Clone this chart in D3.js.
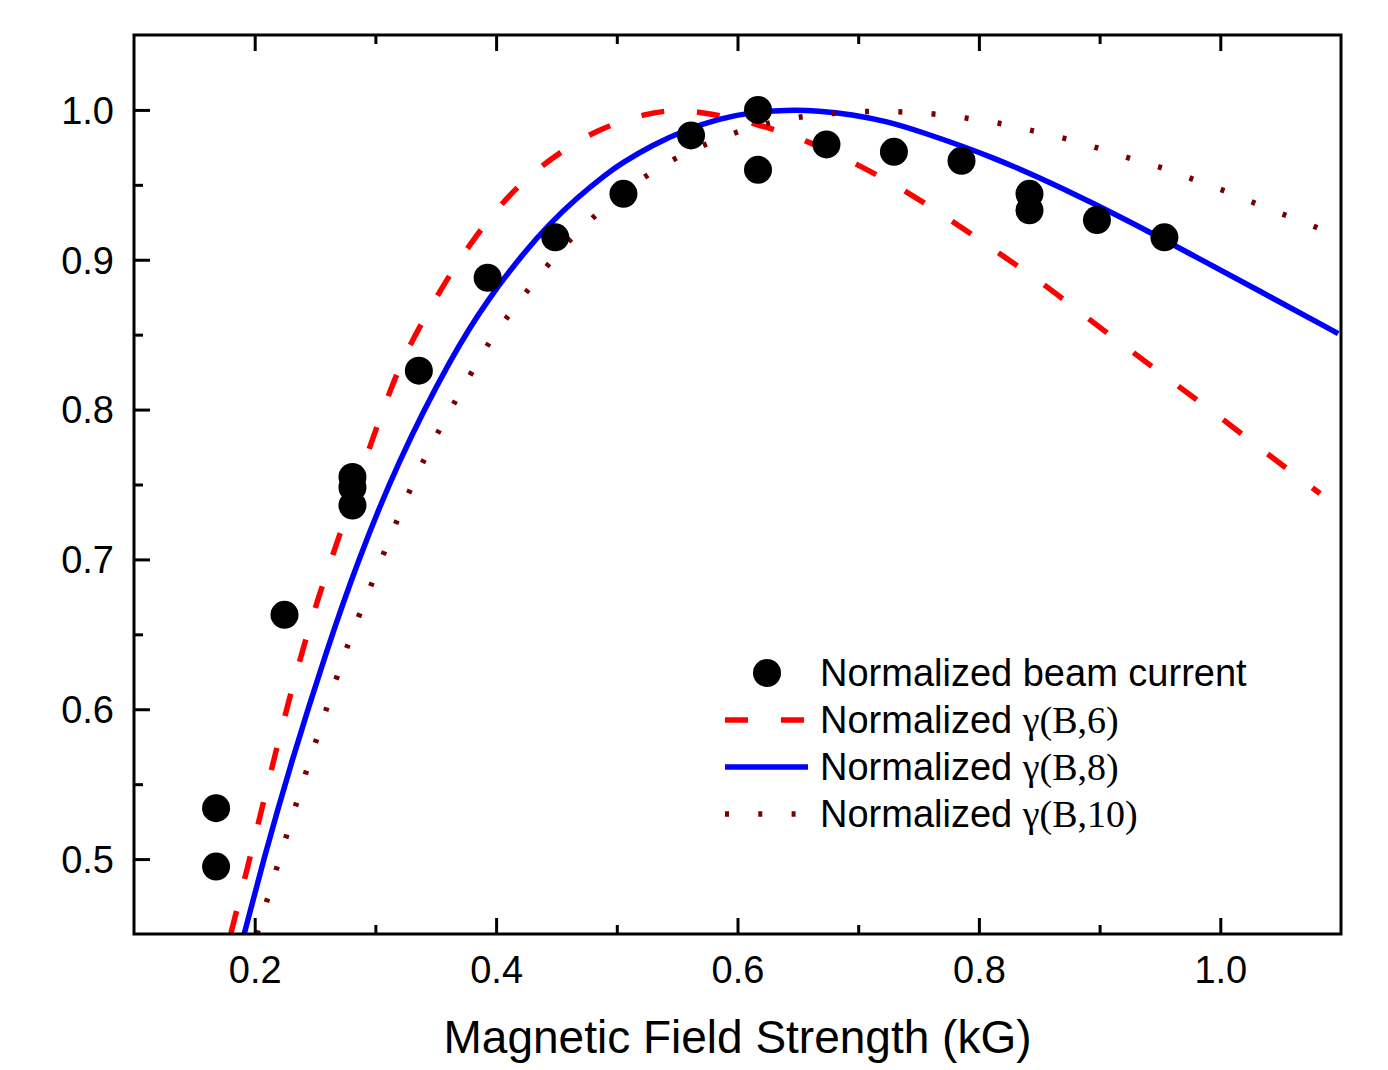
<!DOCTYPE html>
<html>
<head>
<meta charset="utf-8">
<script src="https://cdn.jsdelivr.net/npm/d3@7"></script>
<style>
  html, body { margin: 0; padding: 0; background: #fff; }
  svg { display: block; }
  .sans { font-family: "Liberation Sans", Arial, Helvetica, sans-serif; }
  .serif { font-family: "Liberation Serif", "Times New Roman", serif; }
</style>
</head>
<body>
<svg id="chart" width="1388" height="1070"></svg>
<script>
// Measured beam current (normalized) vs. magnetic field strength in kG
const fieldB = [0.168, 0.168, 0.2247, 0.281, 0.281, 0.281, 0.336, 0.393, 0.449,
                0.5055, 0.5615, 0.617, 0.617, 0.6737, 0.7296, 0.7856, 0.8419, 0.8419,
                0.8978, 0.9537];
const beamCurrent = [0.534, 0.495, 0.663, 0.755, 0.748, 0.736, 0.826, 0.888, 0.915,
                     0.944, 0.983, 1.000, 0.960, 0.977, 0.972, 0.966, 0.944, 0.933,
                     0.9265, 0.915];

// Normalized gamma(B,6) curve
const gamma6B = [0.1803, 0.1946, 0.2062, 0.217, 0.2277, 0.2402, 0.2528, 0.2671, 0.2823,
                 0.2969, 0.3126, 0.3272, 0.3553, 0.3782, 0.4057, 0.4361, 0.4816, 0.5254,
                 0.548, 0.5708, 0.6163, 0.6593, 0.699, 0.7395, 0.7776, 0.8156, 0.8536,
                 0.89, 0.9264, 0.9628, 1.0, 1.0363, 1.0727, 1.0826];
const gamma6V = [0.4505, 0.496, 0.5345, 0.570, 0.604, 0.641, 0.675, 0.7087, 0.7442,
                 0.7789, 0.8138, 0.842, 0.882, 0.9105, 0.9393, 0.9627, 0.987, 0.998,
                 1.0, 0.9987, 0.991, 0.979, 0.964, 0.946, 0.926, 0.905, 0.884,
                 0.861, 0.839, 0.817, 0.795, 0.772, 0.750, 0.744];

// Normalized gamma(B,8) curve
const gamma8B = [0.1913, 0.207, 0.2294, 0.26, 0.2848, 0.3178, 0.3644, 0.3933, 0.4251,
                 0.4444, 0.4664, 0.4912, 0.5036, 0.5295, 0.5576, 0.5849, 0.6122, 0.6403,
                 0.6676, 0.6949, 0.723, 0.7503, 0.814, 0.8686, 0.924, 0.9794, 1.034,
                 1.0977];
const gamma8V = [0.45, 0.4987, 0.5625, 0.6405, 0.6975, 0.7642, 0.8375, 0.8738, 0.9069,
                 0.924, 0.941, 0.9572, 0.9643, 0.9765, 0.987, 0.9942, 0.9985, 1.0,
                 0.9995, 0.997, 0.9925, 0.986, 0.968, 0.948, 0.926, 0.902, 0.8785,
                 0.8507];

// Normalized gamma(B,10) curve
const gamma10B = [0.202, 0.2037, 0.2186, 0.2351, 0.2517, 0.269, 0.2773, 0.298, 0.3286,
                  0.3534, 0.3807, 0.3947, 0.4113, 0.4278, 0.4435, 0.4609, 0.4824, 0.5039,
                  0.5262, 0.5502, 0.5758, 0.6015, 0.6288, 0.656, 0.6833, 0.7114, 0.7387,
                  0.7659, 0.794, 0.8213, 0.8478, 0.8742, 0.9007, 0.9263, 0.9528, 0.9784,
                  1.0041, 1.0297, 1.0553, 1.081, 1.084];
const gamma10V = [0.45, 0.455, 0.495, 0.539, 0.5815, 0.6238, 0.644, 0.686, 0.748,
                  0.788, 0.826, 0.846, 0.864, 0.8813, 0.8973, 0.9133, 0.93, 0.944,
                  0.9573, 0.9687, 0.978, 0.986, 0.992, 0.996, 0.998, 0.9993, 0.9987,
                  0.9973, 0.994, 0.9907, 0.9853, 0.9807, 0.974, 0.9673, 0.9613, 0.9533,
                  0.946, 0.9373, 0.9293, 0.9213, 0.920];

// Axis ticks
const xMajorTicks = [0.2, 0.4, 0.6, 0.8, 1.0];
const xMinorTicks = [0.3, 0.5, 0.7, 0.9];
const yMajorTicks = [0.5, 0.6, 0.7, 0.8, 0.9, 1.0];
const yMinorTicks = [0.55, 0.65, 0.75, 0.85, 0.95];
const xTitle = "Magnetic Field Strength (kG)";

const legendLabels = ["Normalized beam current", "γ(B,6)", "γ(B,8)", "γ(B,10)"];

const svg = d3.select("#chart");
const margin = { left: 134, top: 35, right: 47, bottom: 136 };
const W = 1388, H = 1070;
const plotW = W - margin.left - margin.right;
const plotH = H - margin.top - margin.bottom;

const x = d3.scaleLinear().domain([0.1, 1.1]).range([0, plotW]);
const y = d3.scaleLinear().domain([0.45, 1.05]).range([plotH, 0]);

const g = svg.append("g").attr("transform", `translate(${margin.left},${margin.top})`);

svg.append("defs").append("clipPath").attr("id", "plotClip")
  .append("rect").attr("x", 0).attr("y", 0).attr("width", plotW).attr("height", plotH);

// Curves
const line = d3.line().x(d => x(d[0])).y(d => y(d[1])).curve(d3.curveBasis);
const curves = [
  { B: gamma6B, V: gamma6V, color: "#ff0000", dash: "23,33" },
  { B: gamma8B, V: gamma8V, color: "#0000ff", dash: null },
  { B: gamma10B, V: gamma10V, color: "#7a0000", dash: "4,29.3" }
];
const curveLayer = g.append("g").attr("clip-path", "url(#plotClip)");
curves.forEach(c => {
  const pts = c.B.map((b, i) => [b, c.V[i]]);
  curveLayer.append("path")
    .attr("d", line(pts))
    .attr("fill", "none")
    .attr("stroke", c.color)
    .attr("stroke-width", 5.5)
    .attr("stroke-linecap", "butt")
    .attr("stroke-dasharray", c.dash);
});

// Measured points
g.append("g").selectAll("circle")
  .data(fieldB.map((b, i) => [b, beamCurrent[i]]))
  .join("circle")
  .attr("cx", d => x(d[0]))
  .attr("cy", d => y(d[1]))
  .attr("r", 14)
  .attr("fill", "#000");

// Axes: inward ticks on bottom, top and left
function styleAxis(sel) {
  sel.select(".domain").remove();
  sel.selectAll(".tick line").attr("stroke", "#000").attr("stroke-width", 3);
  sel.selectAll(".tick text").attr("class", "sans").attr("fill", "#000");
}

const xAxisG = g.append("g").attr("transform", `translate(0,${plotH})`)
  .call(d3.axisBottom(x).tickValues(xMajorTicks).tickSize(-16).tickPadding(0)
        .tickFormat(d3.format(".1f")));
styleAxis(xAxisG);
xAxisG.selectAll(".tick text").attr("font-size", 38).attr("dy", null).attr("y", 49);

g.append("g").attr("transform", `translate(0,${plotH})`)
  .call(d3.axisBottom(x).tickValues(xMinorTicks).tickSize(-9).tickFormat(""))
  .call(styleAxis);

g.append("g")
  .call(d3.axisTop(x).tickValues(xMajorTicks).tickSize(-16).tickFormat(""))
  .call(styleAxis);
g.append("g")
  .call(d3.axisTop(x).tickValues(xMinorTicks).tickSize(-9).tickFormat(""))
  .call(styleAxis);

const yAxisG = g.append("g")
  .call(d3.axisLeft(y).tickValues(yMajorTicks).tickSize(-16).tickPadding(20)
        .tickFormat(d3.format(".1f")));
styleAxis(yAxisG);
yAxisG.selectAll(".tick text").attr("font-size", 38).attr("dy", "0.35em");

g.append("g")
  .call(d3.axisLeft(y).tickValues(yMinorTicks).tickSize(-9).tickFormat(""))
  .call(styleAxis);

// Frame
g.append("rect")
  .attr("x", 0).attr("y", 0).attr("width", plotW).attr("height", plotH)
  .attr("fill", "none").attr("stroke", "#000").attr("stroke-width", 3);

// Axis title
svg.append("text")
  .attr("class", "sans")
  .attr("x", margin.left + plotW / 2)
  .attr("y", 1053)
  .attr("text-anchor", "middle")
  .attr("font-size", 46)
  .attr("fill", "#000")
  .text(xTitle);

// Legend
const legend = svg.append("g").attr("transform", "translate(725,0)");
const rowY = [673, 720, 767, 814];
legend.append("circle").attr("cx", 42).attr("cy", rowY[0]).attr("r", 14).attr("fill", "#000");
legend.append("line").attr("x1", 0).attr("x2", 80).attr("y1", rowY[1]).attr("y2", rowY[1])
  .attr("stroke", curves[0].color).attr("stroke-width", 5.5).attr("stroke-dasharray", "23,33");
legend.append("line").attr("x1", 0).attr("x2", 83).attr("y1", rowY[2]).attr("y2", rowY[2])
  .attr("stroke", curves[1].color).attr("stroke-width", 5.5);
legend.append("line").attr("x1", 0).attr("x2", 80).attr("y1", rowY[3]).attr("y2", rowY[3])
  .attr("stroke", curves[2].color).attr("stroke-width", 5.5).attr("stroke-dasharray", "4,29.3");

legendLabels.forEach((lab, i) => {
  const t = legend.append("text")
    .attr("x", 95).attr("y", rowY[i] + 13)
    .attr("font-size", 38).attr("fill", "#000");
  if (i === 0) {
    t.attr("class", "sans").text(lab);
  } else {
    t.append("tspan").attr("class", "sans").text("Normalized ");
    t.append("tspan").attr("class", "serif").text(lab);
  }
});
</script>
</body>
</html>
